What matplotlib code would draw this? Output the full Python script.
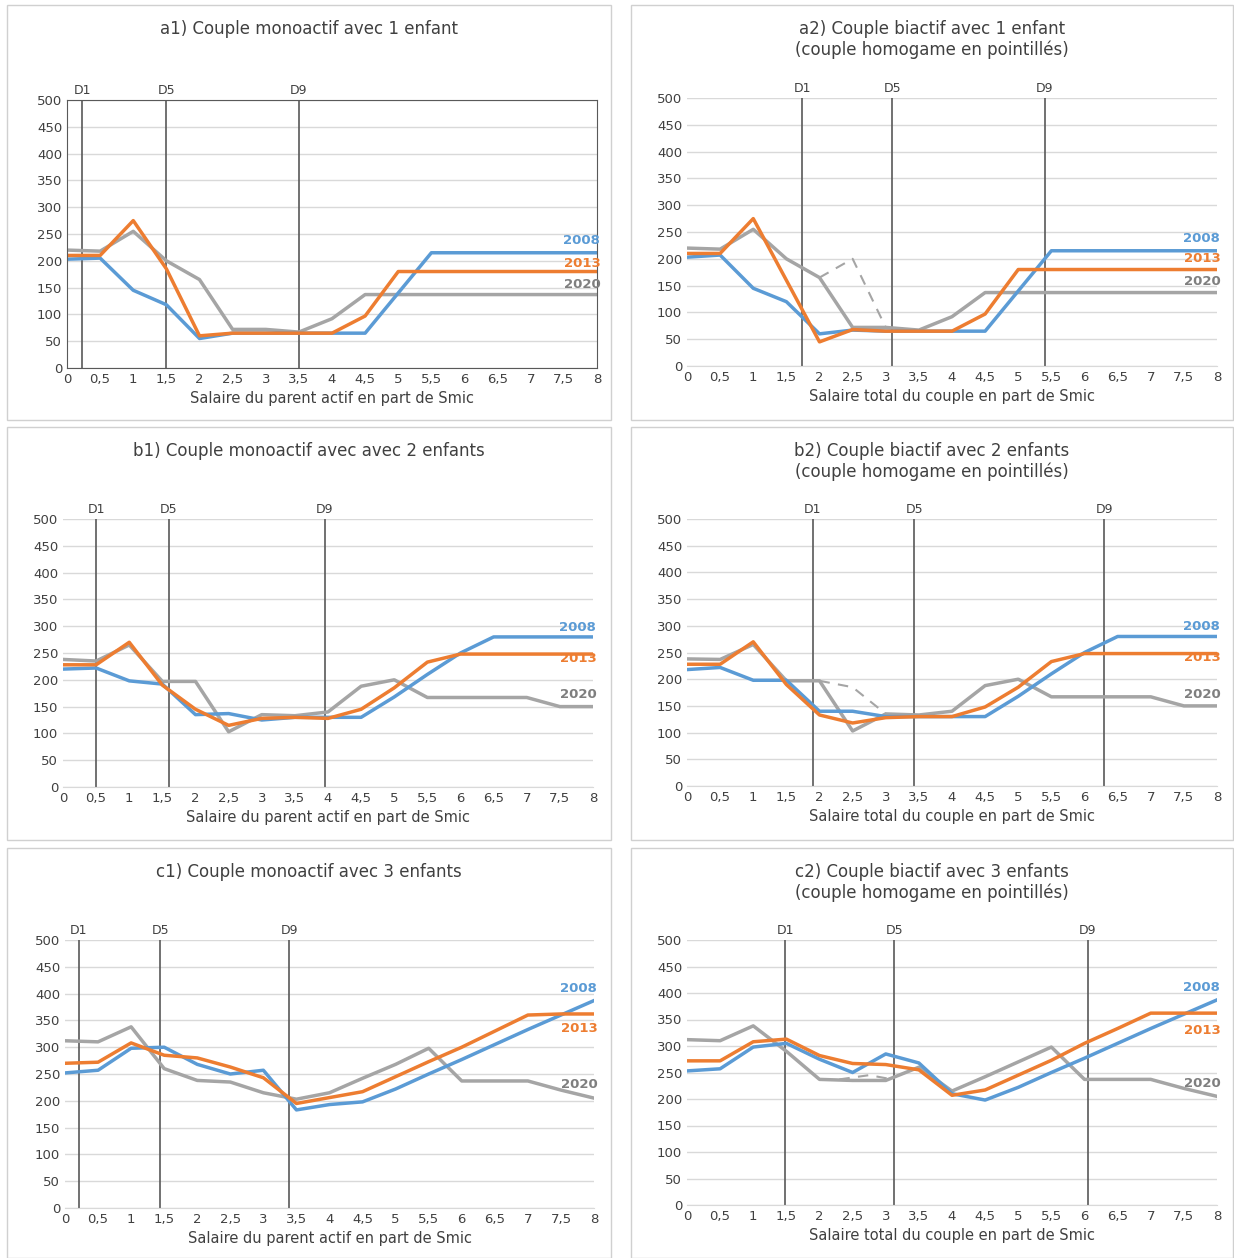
import matplotlib.pyplot as plt
from matplotlib.patches import Rectangle

W, H = 1234, 1258
x = [i * 0.5 for i in range(17)]
xticks = [i * 0.5 for i in range(17)]
xlabels = [('%g' % v).replace('.', ',') for v in xticks]

titles = ["a1) Couple monoactif avec 1 enfant",
          "a2) Couple biactif avec 1 enfant\n(couple homogame en pointillés)",
          "b1) Couple monoactif avec avec 2 enfants",
          "b2) Couple biactif avec 2 enfants\n(couple homogame en pointillés)",
          "c1) Couple monoactif avec 3 enfants",
          "c2) Couple biactif avec 3 enfants\n(couple homogame en pointillés)"]
xlab = ["Salaire du parent actif en part de Smic", "Salaire total du couple en part de Smic"]

deciles = [[0.23, 1.5, 3.5], [1.74, 3.1, 5.4], [0.5, 1.6, 3.95],
           [1.9, 3.43, 6.3], [0.21, 1.44, 3.39], [1.48, 3.13, 6.05]]

s2008 = [
    [203, 205, 145, 118, 55, 65, 65, 65, 65, 65, 140, 215, 215, 215, 215, 215, 215],
    [203, 207, 145, 120, 60, 67, 65, 65, 65, 65, 140, 215, 215, 215, 215, 215, 215],
    [220, 222, 198, 192, 135, 137, 125, 130, 130, 130, 168, 210, 250, 280, 280, 280, 280],
    [218, 222, 198, 198, 140, 140, 130, 130, 130, 130, 168, 210, 250, 280, 280, 280, 280],
    [252, 257, 298, 300, 268, 250, 257, 183, 193, 198, 222, 250, 277, 305, 333, 360, 387],
    [253, 257, 298, 305, 275, 250, 285, 268, 210, 198, 222, 250, 277, 305, 333, 360, 387]]
s2013 = [
    [210, 210, 275, 185, 60, 65, 65, 65, 65, 97, 180, 180, 180, 180, 180, 180, 180],
    [210, 210, 275, 160, 45, 68, 65, 65, 65, 97, 180, 180, 180, 180, 180, 180, 180],
    [228, 228, 270, 190, 145, 115, 128, 130, 128, 145, 185, 233, 248, 248, 248, 248, 248],
    [228, 228, 270, 190, 133, 118, 128, 130, 130, 148, 185, 233, 248, 248, 248, 248, 248],
    [270, 272, 308, 285, 280, 263, 243, 195, 206, 217, 245, 273, 300, 330, 360, 362, 362],
    [272, 272, 308, 313, 282, 267, 265, 255, 207, 217, 245, 273, 305, 333, 362, 362, 362]]
s2020 = [
    [220, 218, 255, 200, 165, 72, 72, 67, 92, 137, 137, 137, 137, 137, 137, 137, 137],
    [220, 218, 255, 200, 165, 72, 72, 67, 92, 137, 137, 137, 137, 137, 137, 137, 137],
    [238, 235, 265, 197, 197, 103, 135, 133, 140, 188, 200, 167, 167, 167, 167, 150, 150],
    [238, 237, 265, 197, 197, 103, 135, 133, 140, 188, 200, 167, 167, 167, 167, 150, 150],
    [312, 310, 338, 260, 238, 235, 215, 203, 215, 242, 268, 298, 237, 237, 237, 220, 205],
    [312, 310, 338, 290, 237, 235, 235, 260, 215, 242, 270, 298, 237, 237, 237, 220, 205]]
# couple homogame (pointillés)
dash_x = [None, [2, 2.5, 3], None, [2, 2.5, 3], None, [2.3, 2.75, 3.1]]
dash_y = [None, [165, 200, 72], None, [197, 185, 135], None, [237, 245, 237]]

# label y positions near the right end
lab_y = [[237, 195, 155], [237, 200, 157], [298, 240, 172], [298, 240, 172],
         [410, 335, 230], [410, 330, 230]]

blue, orange, grey = '#5b9bd5', '#ed7d31', '#a5a5a5'

fig = plt.figure(figsize=(W / 100, H / 100), dpi=100)
frames = [(7, 5, 604, 415), (631, 5, 602, 415), (7, 427, 604, 413),
          (631, 427, 602, 413), (7, 848, 604, 410), (631, 848, 602, 410)]
axes_px = [(67, 100, 530, 268), (687, 98, 530, 268), (63, 519, 530, 268),
           (687, 519, 530, 267), (65, 940, 529, 268), (687, 940, 530, 265)]

for k in range(6):
    fx, fy, fw, fh = frames[k]
    fig.patches.append(Rectangle((fx / W, 1 - (fy + fh) / H), fw / W, fh / H,
                                 transform=fig.transFigure, fill=False,
                                 edgecolor='#d0d0d0', lw=1))
    ax_, ay, aw, ah = axes_px[k]
    ax = fig.add_axes([ax_ / W, 1 - (ay + ah) / H, aw / W, ah / H])
    ax.set_xlim(0, 8)
    ax.set_ylim(0, 500)
    ax.set_yticks(range(0, 501, 50))
    ax.set_xticks(xticks)
    ax.set_xticklabels(xlabels)
    ax.tick_params(length=0, labelsize=9.5, colors='#404040')
    ax.grid(axis='y', color='#d9d9d9', lw=1)
    ax.set_axisbelow(True)
    for sp in ax.spines.values():
        sp.set_visible(False)
    if k == 0:
        for sp in ax.spines.values():
            sp.set_visible(True)
            sp.set_color('#595959')
    else:
        ax.spines['bottom'].set_visible(True)
        ax.spines['bottom'].set_color('#d9d9d9')
    for d, name in zip(deciles[k], ['D1', 'D5', 'D9']):
        ax.axvline(d, color='#595959', lw=1.2)
        ax.text(d, 505, name, ha='center', va='bottom', fontsize=9, color='#404040')
    if dash_x[k]:
        ax.plot(dash_x[k], dash_y[k], color=grey, lw=1.5, ls=(0, (5, 4)))
    ax.plot(x, s2020[k], color=grey, lw=2.5)
    ax.plot(x, s2008[k], color=blue, lw=2.5)
    ax.plot(x, s2013[k], color=orange, lw=2.5)
    for yy, lab, c in zip(lab_y[k], ['2008', '2013', '2020'], [blue, orange, '#7f7f7f']):
        ax.text(8.05, yy, lab, ha='right', va='center', fontsize=9.5,
                color=c, fontweight='bold', clip_on=False)
    ax.set_xlabel(xlab[k % 2], fontsize=10.5, color='#404040', labelpad=4)
    fig.text((fx + fw / 2) / W, 1 - (fy + 15) / H, titles[k], ha='center', va='top',
             fontsize=12, color='#404040', linespacing=1.2)

fig.savefig('out.png', dpi=100)
